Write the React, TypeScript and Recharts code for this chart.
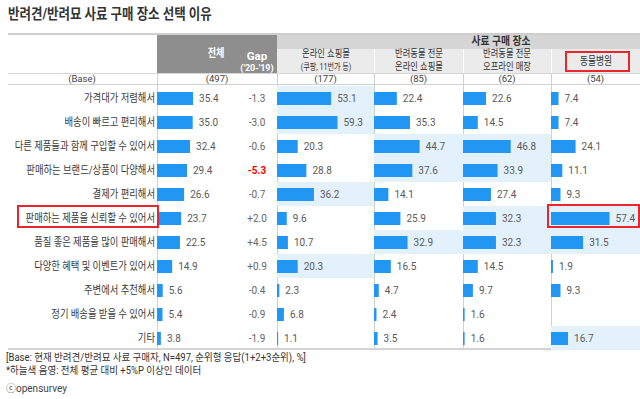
import React from 'react';
import { BarChart, Bar, XAxis, YAxis, LabelList } from 'recharts';

const title = '반려견/반려묘 사료 구매 장소 선택 이유';
const categories = [
  '가격대가 저렴해서',
  '배송이 빠르고 편리해서',
  '다른 제품들과 함께 구입할 수 있어서',
  '판매하는 브랜드/상품이 다양해서',
  '결제가 편리해서',
  '판매하는 제품을 신뢰할 수 있어서',
  '품질 좋은 제품을 많이 판매해서',
  '다양한 혜택 및 이벤트가 있어서',
  '주변에서 추천해서',
  '정기 배송을 받을 수 있어서',
  '기타',
];
const totalValues = [35.4, 35.0, 32.4, 29.4, 26.6, 23.7, 22.5, 14.9, 5.6, 5.4, 3.8];
const gapValues = [-1.3, -3.0, -0.6, -5.3, -0.7, 2.0, 4.5, 0.9, -0.4, -0.9, -1.9];
const onlineMallValues = [53.1, 59.3, 20.3, 28.8, 36.2, 9.6, 10.7, 20.3, 2.3, 6.8, 1.1];
const petOnlineValues = [22.4, 35.3, 44.7, 37.6, 14.1, 25.9, 32.9, 16.5, 4.7, 2.4, 3.5];
const petOfflineValues = [22.6, 14.5, 46.8, 33.9, 27.4, 32.3, 32.3, 14.5, 9.7, 1.6, 1.6];
const vetHospitalValues = [7.4, 7.4, 24.1, 11.1, 9.3, 57.4, 31.5, 1.9, 9.3, 0.0, 16.7];
const onlineMallHighlight = [1, 1, 0, 0, 1, 0, 0, 1, 0, 0, 0];
const petOnlineHighlight = [0, 0, 1, 1, 0, 0, 1, 0, 0, 0, 0];
const petOfflineHighlight = [0, 0, 1, 1, 0, 1, 1, 0, 0, 0, 0];
const vetHospitalHighlight = [0, 0, 0, 0, 0, 1, 1, 0, 0, 0, 1];
const baseLabel = '(Base)';
const totalBase = 497;
const totalHeader = '전체';
const gapHeader = ['Gap', "('20-'19)"];
const groupHeader = '사료 구매 장소';
const channelHeaders = [
  ['온라인 쇼핑몰', '(쿠팡, 11번가 등)'],
  ['반려동물 전문', '온라인 쇼핑몰'],
  ['반려동물 전문', '오프라인 매장'],
  ['동물병원'],
];
const channelBases = [177, 85, 62, 54];
const footnotes = [
  '[Base: 현재 반려견/반려묘 사료 구매자, N=497, 순위형 응답(1+2+3순위), %]',
  '*하늘색 음영: 전체 평균 대비 +5%P 이상인 데이터',
];
const credit = 'ⓒopensurvey';

const channelValues = [onlineMallValues, petOnlineValues, petOfflineValues, vetHospitalValues];
const channelHighlights = [onlineMallHighlight, petOnlineHighlight, petOfflineHighlight, vetHospitalHighlight];

// layout
const FONT = "Roboto, 'Noto Sans CJK KR', sans-serif";
const ROW_TOP = 86;
const ROWS_H = 264;
const PX_PER_UNIT = 1.02;
const LABEL_W = 157;
const GAP_W = 40;
const TOTAL_RIGHT = 277;
const COL_EDGES = [277, 374, 463, 551, 640];
const BAR_COLOR = '#2196f3';
const HL_COLOR = '#e3f1fd';
const KS = 0.79;

type TxtProps = {
  x: number; y: number; size: number; children: React.ReactNode;
  anchor?: 'start' | 'middle' | 'end'; weight?: number; color?: string; scale?: number;
};
function Txt({ x, y, size, children, anchor = 'start', weight = 400, color = '#333', scale = 1 }: TxtProps) {
  const tx = anchor === 'middle' ? -50 : anchor === 'end' ? -100 : 0;
  const origin = anchor === 'middle' ? 'center center' : anchor === 'end' ? 'right center' : 'left center';
  return (
    <div
      style={{
        position: 'absolute', left: x, top: y, fontSize: size, fontWeight: weight, color,
        whiteSpace: 'nowrap', lineHeight: 1, transform: `translate(${tx}%, -50%) scaleX(${scale})`,
        transformOrigin: origin,
      }}
    >
      {children}
    </div>
  );
}

const LabelTick = (props: any) => {
  const { x, y, payload } = props;
  return (
    <text
      transform={`translate(${x},${y}) scale(0.85,1)`}
      textAnchor="end"
      dominantBaseline="central"
      fontSize={11}
      fill="#3a3a3a"
    >
      {payload.value}
    </text>
  );
};

const GapTick = (props: any) => {
  const { x, y, index } = props;
  const g = gapValues[index];
  const txt = g > 0 ? `+${g.toFixed(1)}` : g.toFixed(1);
  const red = g <= -5;
  return (
    <text
      x={x + GAP_W / 2}
      y={y}
      textAnchor="middle"
      dominantBaseline="central"
      fontSize={10}
      fontWeight={red ? 700 : 400}
      fill={red ? '#ff0000' : '#666'}
    >
      {txt}
    </text>
  );
};

const fmt = (v: any) => Number(v).toFixed(1);

function ChannelColumn({ left, width, values, hl }: { left: number; width: number; values: number[]; hl: number[] }) {
  const data = categories.map((c, i) => ({ label: c, v: values[i], hl: hl[i] }));
  return (
    <>
      <div style={{ position: 'absolute', left, top: ROW_TOP }}>
        <BarChart width={width} height={ROWS_H} data={data} layout="vertical" margin={{ top: 0, right: 0, bottom: 0, left: 0 }} barCategoryGap={0}>
          <XAxis type="number" domain={[0, 1]} hide />
          <YAxis type="category" dataKey="label" hide />
          <Bar dataKey="hl" fill={HL_COLOR} isAnimationActive={false} />
        </BarChart>
      </div>
      <div style={{ position: 'absolute', left, top: ROW_TOP }}>
        <BarChart width={width} height={ROWS_H} data={data} layout="vertical" margin={{ top: 0, right: 0, bottom: 0, left: 0 }}>
          <XAxis type="number" domain={[0, width / PX_PER_UNIT]} hide allowDataOverflow />
          <YAxis type="category" dataKey="label" hide />
          <Bar dataKey="v" fill={BAR_COLOR} barSize={13} isAnimationActive={false}>
            <LabelList dataKey="v" position="right" offset={6} formatter={fmt} fontSize={10} fill="#5a5a5a" />
          </Bar>
        </BarChart>
      </div>
    </>
  );
}

export default function App() {
  const totalData = categories.map((c, i) => ({ label: c, v: totalValues[i] }));
  const plotW = TOTAL_RIGHT - LABEL_W - GAP_W;
  const hLine = (y: number, h: number, color: string) => (
    <div style={{ position: 'absolute', left: 8, top: y, width: 632, height: h, background: color }} />
  );
  const vLine = (x: number, y0: number, y1: number, color: string) => (
    <div key={`${x}-${y0}`} style={{ position: 'absolute', left: x, top: y0, width: 1, height: y1 - y0, background: color }} />
  );
  return (
    <div style={{ position: 'absolute', left: 0, top: 0, width: 640, height: 399, background: '#fff', fontFamily: FONT, overflow: 'hidden' }}>
      <Txt x={8} y={15} size={14.5} weight={700} color="#333" scale={0.86}>{title}</Txt>

      {/* header */}
      <div style={{ position: 'absolute', left: TOTAL_RIGHT, top: 34, width: 640 - TOTAL_RIGHT, height: 15, background: '#d5d5d5' }} />
      <div style={{ position: 'absolute', left: TOTAL_RIGHT, top: 49, width: 640 - TOTAL_RIGHT, height: 24, background: '#ebebeb' }} />
      <div style={{ position: 'absolute', left: LABEL_W, top: 34, width: TOTAL_RIGHT - LABEL_W, height: 39, background: '#8e8e8e' }} />
      {hLine(33, 2, '#cfcfcf')}
      {hLine(73, 1, '#d6d6d6')}
      {hLine(84, 1, '#d0d0d0')}
      {hLine(348, 2, '#d4d4d4')}
      {COL_EDGES.slice(1, 4).map((x) => vLine(x, 49, 73, '#ffffff'))}
      {[LABEL_W, ...COL_EDGES.slice(0, 4)].map((x) => vLine(x, 73, 349, '#d0d0d0'))}

      <Txt x={216} y={54} size={11.5} weight={700} color="#fff" anchor="middle" scale={KS}>{totalHeader}</Txt>
      <Txt x={257} y={57} size={11.5} weight={700} color="#fff" anchor="middle">{gapHeader[0]}</Txt>
      <Txt x={257} y={68} size={9} weight={700} color="#fff" anchor="middle">{gapHeader[1]}</Txt>
      <Txt x={501} y={42} size={11.5} weight={700} color="#333" anchor="middle" scale={0.85}>{groupHeader}</Txt>
      {channelHeaders.map((lines, i) => {
        const cx = (COL_EDGES[i] + COL_EDGES[i + 1]) / 2;
        if (lines.length === 1) {
          return <Txt key={i} x={cx} y={61} size={11} color="#333" anchor="middle" scale={KS}>{lines[0]}</Txt>;
        }
        return (
          <React.Fragment key={i}>
            <Txt x={cx} y={54} size={10.5} color="#333" anchor="middle" scale={KS}>{lines[0]}</Txt>
            <Txt x={cx} y={66.5} size={i === 0 ? 9 : 10.5} color="#333" anchor="middle" scale={KS}>{lines[1]}</Txt>
          </React.Fragment>
        );
      })}

      {/* base row */}
      <Txt x={82} y={79} size={9.5} color="#444" anchor="middle">{baseLabel}</Txt>
      <Txt x={217} y={79} size={9.5} color="#444" anchor="middle">{`(${totalBase})`}</Txt>
      {channelBases.map((b, i) => (
        <Txt key={i} x={(COL_EDGES[i] + COL_EDGES[i + 1]) / 2} y={79} size={9.5} color="#444" anchor="middle">{`(${b})`}</Txt>
      ))}

      {/* total column with labels and gap */}
      <div style={{ position: 'absolute', left: 0, top: ROW_TOP }}>
        <BarChart width={TOTAL_RIGHT} height={ROWS_H} data={totalData} layout="vertical" margin={{ top: 0, right: 0, bottom: 0, left: 0 }}>
          <XAxis type="number" domain={[0, plotW / PX_PER_UNIT]} hide allowDataOverflow />
          <YAxis type="category" dataKey="label" width={LABEL_W} axisLine={false} tickLine={false} tickSize={0} tickMargin={2} tick={LabelTick} interval={0} />
          <YAxis yAxisId="gap" orientation="right" type="category" dataKey="label" width={GAP_W} axisLine={false} tickLine={false} tickSize={0} tickMargin={0} tick={GapTick} interval={0} />
          <Bar dataKey="v" fill={BAR_COLOR} barSize={13} isAnimationActive={false}>
            <LabelList dataKey="v" position="right" offset={6} formatter={fmt} fontSize={10} fill="#5a5a5a" />
          </Bar>
        </BarChart>
      </div>

      {channelValues.map((vals, i) => (
        <ChannelColumn key={i} left={COL_EDGES[i]} width={COL_EDGES[i + 1] - COL_EDGES[i]} values={vals} hl={channelHighlights[i]} />
      ))}

      {/* annotation boxes */}
      <div style={{ position: 'absolute', left: 17, top: 205, width: 142, height: 23, border: '2px solid #e8262b', boxSizing: 'border-box' }} />
      <div style={{ position: 'absolute', left: 565, top: 51, width: 65, height: 21, border: '2px solid #e8262b', boxSizing: 'border-box' }} />
      <div style={{ position: 'absolute', left: 547, top: 204, width: 93, height: 24, border: '2px solid #e8262b', boxSizing: 'border-box' }} />

      {/* footnotes */}
      <Txt x={6} y={358} size={10} color="#333" scale={0.95}>{footnotes[0]}</Txt>
      <Txt x={6} y={371} size={10} color="#333" scale={0.95}>{footnotes[1]}</Txt>
      <Txt x={6} y={389} size={10} color="#444">{credit}</Txt>
    </div>
  );
}
